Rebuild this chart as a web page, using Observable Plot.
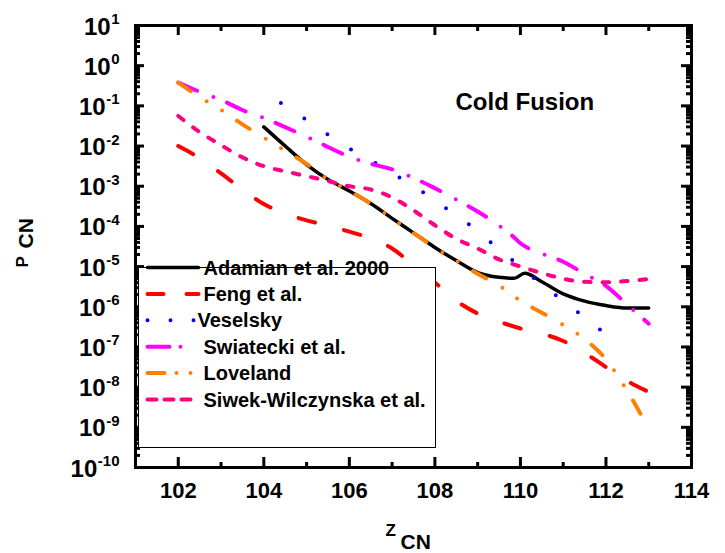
<!DOCTYPE html>
<html><head><meta charset="utf-8">
<script src="https://cdn.jsdelivr.net/npm/d3@7"></script>
<script src="https://cdn.jsdelivr.net/npm/@observablehq/plot@0.6"></script>
<style>body{margin:0;background:#fff;overflow:hidden} svg{display:block}</style>
</head><body><div id="chart"></div>
<script>
// ---- data ----
const seriesNames = ["Adamian et al. 2000","Feng et al.","Veselsky","Swiatecki et al.","Loveland","Siwek-Wilczynska et al."];

const zAdamian = [104,104.5,105,105.5,106,106.5,107,107.5,108,108.5,109,109.5,109.85,110.1,110.5,111,111.5,112,112.5,113];
const pAdamian = [3.0e-2,1.0e-2,3.47e-3,1.48e-3,7.6e-4,3.7e-4,1.58e-4,6.9e-5,3.0e-5,1.41e-5,7.1e-6,5.4e-6,5.1e-6,6.8e-6,4.2e-6,2.1e-6,1.38e-6,1.07e-6,9.3e-7,9.3e-7];

const zFeng = [102,102.5,103,103.5,104,104.5,105,105.5,106,106.5,107,107.5,108,108.5,109,109.5,110,110.5,111,111.5,112,112.5,113];
const pFeng = [1.0e-2,5.0e-3,2.09e-3,8.3e-4,3.6e-4,2.09e-4,1.41e-4,1.05e-4,7.4e-5,5.0e-5,2.82e-5,1.07e-5,4.0e-6,1.41e-6,6.8e-7,4.27e-7,2.88e-7,2.14e-7,1.41e-7,7.1e-8,3.16e-8,1.41e-8,7.6e-9];

const zVeselsky = [104.4,105,105.5,106,106.5,107,107.5,108,108.5,109,109.5,110,110.5,111,111.5,111.9];
const pVeselsky = [0.117,4.47e-2,1.91e-2,8.7e-3,4.47e-3,2.09e-3,1.05e-3,4.27e-4,1.91e-4,7.6e-5,2.69e-5,1.0e-5,3.55e-6,1.41e-6,5.4e-7,2.5e-7];

const zSwiatecki = [102,102.5,103,103.5,104,104.5,105,105.5,106,106.5,107,107.5,108,108.5,109,109.5,109.8,110,110.3,110.5,111,111.5,112,112.5,113];
const pSwiatecki = [0.38,0.224,0.141,7.9e-2,5.0e-2,2.95e-2,1.7e-2,9.5e-3,5.4e-3,3.63e-3,2.63e-3,1.62e-3,8.9e-4,4.68e-4,2.34e-4,1.05e-4,6.0e-5,3.8e-5,2.51e-5,2.09e-5,1.32e-5,6.6e-6,3.3e-6,1.12e-6,3.8e-7];

const zLoveland = [102,102.5,103,103.5,104,104.5,105,105.5,106,106.5,107,107.5,108,108.5,109,109.5,110,110.5,111,111.5,112,112.5,112.75,113];
const pLoveland = [0.38,0.166,7.9e-2,3.47e-2,1.62e-2,7.6e-3,3.6e-3,1.48e-3,7.6e-4,3.7e-4,1.58e-4,6.9e-5,3.0e-5,1.41e-5,6.6e-6,3.4e-6,1.41e-6,7.1e-7,3.55e-7,1.58e-7,4.9e-8,7.9e-9,2.8e-9,8.5e-10];

const zSiwek = [102,102.5,103,103.5,104,104.5,105,105.5,106,106.5,107,107.5,108,108.5,109,109.5,110,110.5,111,111.5,112,112.5,113];
const pSiwek = [5.6e-2,2.24e-2,1.05e-2,5.25e-3,3.16e-3,2.34e-3,1.78e-3,1.35e-3,1.0e-3,8.3e-4,5.25e-4,2.51e-4,1.07e-4,4.9e-5,2.82e-5,1.51e-5,1.0e-5,6.9e-6,5.0e-6,4.17e-6,4.07e-6,4.37e-6,4.9e-6];

const xMajorTicks = [102,104,106,108,110,112,114];
const xMinorTicks = [101,103,105,107,109,111,113];
const yExponents = [-10,-9,-8,-7,-6,-5,-4,-3,-2,-1,0,1];
const yMinorMultipliers = [2,3,4,5,6,7,8,9];
const yBaseLabel = "10";
const annotation = "Cold Fusion";
const xTitle = ["Z","CN"];
const yTitle = ["P","CN"];

// ---- styles ----
const zs = [zAdamian,zFeng,zVeselsky,zSwiatecki,zLoveland,zSiwek];
const ps = [pAdamian,pFeng,pVeselsky,pSwiatecki,pLoveland,pSiwek];
const colors = ["#000000","#ff0000","#0000ff","#ff00ff","#ff8000","#ff0080"];
const widths = [3.5,4,4,4,4,4];
const dashes = [null,"17,30","0,28","20.5,17.5,0,14.7","15,19,0,18,0,18","6.5,12"];
const legendDashes = [null,"16,23","0,23","22,11,0,20","17,12,0,14,0,20","9,8"];

const rows = seriesNames.flatMap((name,i) => zs[i].map((z,j) => ({series:name, z, p: ps[i][j]})));
const yMajor = yExponents.map(e => +("1e" + e));
const yMinor = yExponents.slice(0,-1).flatMap(e => yMinorMultipliers.map(m => +(m + "e" + e)));

const W = 725, H = 553, ML = 135, MR = 34, MT = 25, MB = 86;
const FW = W - ML - MR, FH = H - MT - MB;
const tk = {stroke:"black", strokeWidth:3};
const FONT = "Liberation Sans, Arial, Helvetica, sans-serif";
const txt = {fontFamily:FONT, fontWeight:"bold", fill:"black"};
// approximate bold-Arial advance widths (em) for the exponent strings
const expWidth = s => [...s].reduce((a,c) => a + (c === "-" ? 0.333 : 0.556), 0) * 15;

const yLabelMarks = yExponents.flatMap((e,i) => [
  Plot.text([yMajor[i]], {y:d => d, text:() => String(e), frameAnchor:"left", textAnchor:"end",
    lineAnchor:"bottom", dx:-16, dy:-1.5, fontSize:15, ...txt}),
  Plot.text([yMajor[i]], {y:d => d, text:() => yBaseLabel, frameAnchor:"left", textAnchor:"end",
    lineAnchor:"bottom", dx:-16 - expWidth(String(e)) - 0.5, dy:9, fontSize:24, ...txt})
]);

const legendMarks = seriesNames.flatMap((name,i) => {
  const off = 267 - MT + i*26.4;
  return [
    Plot.frame({anchor:"top", insetTop:off, insetLeft:12, insetRight:(W - MR) - (i === 5 ? 194 : 198),
      stroke:colors[i], strokeWidth:widths[i], strokeLinecap:"round",
      strokeDasharray:legendDashes[i] ?? undefined}),
    Plot.text([name], {text:d => d, frameAnchor:"top-left", textAnchor:"start", lineAnchor:"bottom",
      dx:(i === 2 ? 62 : 68), dy:off + 7, fontSize:20, ...txt})
  ];
});

const chart = Plot.plot({
  width:W, height:H,
  marginLeft:ML, marginRight:MR, marginTop:MT, marginBottom:MB,
  style:{background:"white"},
  x:{domain:[101,114], axis:null},
  y:{type:"log", domain:[1e-10,10], axis:null},
  marks:[
    ...seriesNames.map((name,i) => Plot.line(rows.filter(d => d.series === name), {
      x:"z", y:"p", stroke:colors[i], strokeWidth:widths[i],
      strokeDasharray:dashes[i] ?? undefined, strokeLinecap:"round", strokeLinejoin:"round",
      curve:"monotone-x"
    })),
    // inward ticks
    Plot.tickX(xMajorTicks, {x:d => d, insetTop:FH - 10, ...tk}),
    Plot.tickX(xMinorTicks, {x:d => d, insetTop:FH - 5, ...tk}),
    Plot.tickX(xMajorTicks, {x:d => d, insetBottom:FH - 10, ...tk}),
    Plot.tickX(xMinorTicks, {x:d => d, insetBottom:FH - 6, ...tk}),
    Plot.tickY(yMajor, {y:d => d, insetRight:FW - 9, ...tk}),
    Plot.tickY(yMinor, {y:d => d, insetRight:FW - 5, ...tk}),
    Plot.tickY(yMajor, {y:d => d, insetLeft:FW - 10, ...tk}),
    Plot.tickY(yMinor, {y:d => d, insetLeft:FW - 5, ...tk}),
    Plot.frame({stroke:"black", strokeWidth:3}),
    // tick labels
    ...yLabelMarks,
    Plot.text(xMajorTicks, {x:d => d, text:d => String(d), frameAnchor:"bottom", textAnchor:"middle",
      lineAnchor:"bottom", dy:30, fontSize:22, ...txt}),
    // axis titles
    Plot.text([xTitle[0]], {text:d => d, frameAnchor:"bottom-left", textAnchor:"start", lineAnchor:"bottom", dx:250, dy:68, fontSize:17, ...txt}),
    Plot.text([xTitle[1]], {text:d => d, frameAnchor:"bottom-left", textAnchor:"start", lineAnchor:"bottom", dx:265, dy:81, fontSize:21, ...txt}),
    Plot.text([yTitle[0]], {text:d => d, frameAnchor:"left", textAnchor:"start", lineAnchor:"bottom", rotate:-90, dx:-108, dy:21, fontSize:17, ...txt}),
    Plot.text([yTitle[1]], {text:d => d, frameAnchor:"left", textAnchor:"start", lineAnchor:"bottom", rotate:-90, dx:-103, dy:2, fontSize:21, ...txt}),
    // annotation
    Plot.text([annotation], {text:d => d, frameAnchor:"top-left", textAnchor:"start", lineAnchor:"bottom", dx:320, dy:84, fontSize:24, ...txt}),
    // legend
    Plot.frame({insetLeft:3, insetTop:242, insetRight:256, insetBottom:20, fill:"white", stroke:"black", strokeWidth:1}),
    ...legendMarks
  ]
});
document.getElementById("chart").append(chart);
</script>
</body></html>
